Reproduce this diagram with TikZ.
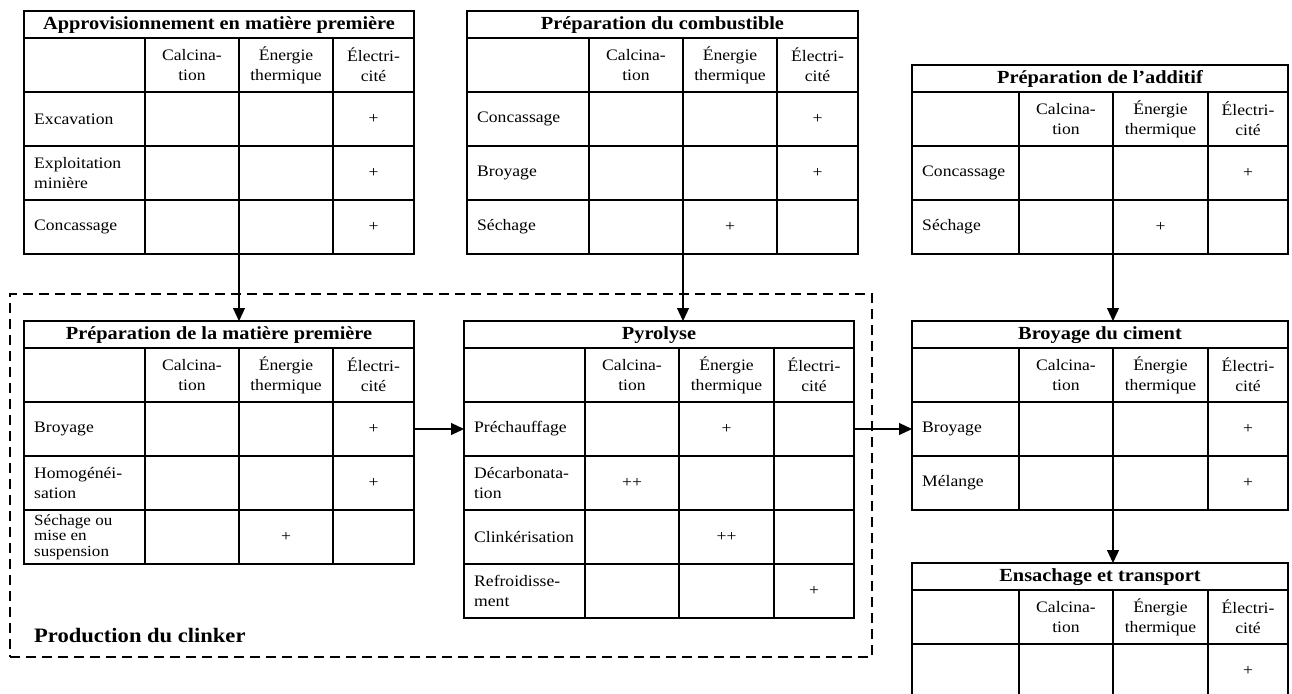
\documentclass[tikz,border=0pt]{standalone}
\usepackage{fontspec}
\setmainfont{Liberation Serif}[FakeStretch=1.1]
\usetikzlibrary{arrows.meta}
\tikzset{
 ln/.style={line width=1.2pt},
 frame/.style={draw, line width=1.2pt, inner sep=0pt, outer sep=0pt},
 ttl/.style={font=\fontsize{18.5}{20}\selectfont\bfseries, inner sep=0pt},
 hd/.style={font=\fontsize{16}{20}\selectfont, align=center, inner sep=0pt},
 lbl/.style={font=\fontsize{16}{20}\selectfont, align=left, anchor=west, inner sep=0pt},
 val/.style={font=\fontsize{16}{20}\selectfont, inner sep=0pt},
 arr/.style={line width=1.2pt, -{Triangle[length=13pt,width=12pt]}},
 dbox/.style={draw, line width=1.2pt, dash pattern=on 10pt off 6pt, inner sep=0pt, outer sep=0pt},
}
\newcommand\settab[6]{\def\Xo{#1}\def\Xa{#2}\def\Xb{#3}\def\Xc{#4}\def\Xe{#5}\def\Yt{#6}}
\newcommand\drawtab[3]{%
  \node[frame, minimum width={(\Xe-\Xo)*1pt}, minimum height={(81+54*#2)*1pt}, anchor=north west] (#1) at (\Xo,\Yt) {};
  \node[ttl] (#1-t) at ({(\Xo+\Xe)/2},\Yt+14) {#3};
  \coordinate (#1-b) at (\Xb,\Yt);
  \coordinate (#1-r1) at (\Xo,\Yt+108);
  \draw[ln] (\Xo,\Yt+27) -- (\Xe,\Yt+27);
  \pgfmathtruncatemacro\nr{#2-1}%
  \foreach \r in {0,...,\nr} \draw[ln] (\Xo,\Yt+81+54*\r) -- (\Xe,\Yt+81+54*\r);
  \foreach \c in {\Xa,\Xb,\Xc} \draw[ln] (\c,\Yt+27) -- (\c,\Yt+81+54*#2);
  \node[hd] (#1-h1) at ({(\Xa+\Xb)/2},\Yt+54) {Calcina-\\tion};
  \node[hd] (#1-h2) at ({(\Xb+\Xc)/2},\Yt+54) {Énergie\\thermique};
  \node[hd] (#1-h3) at ({(\Xc+\Xe)/2},\Yt+54) {Électri-\\cité};
}
\newcommand\rowc[6]{%
  \node[lbl] (#1-l) at (\Xo+10,\Yt+108+54*#2) {#3};
  \node[val] (#1-a) at ({(\Xa+\Xb)/2},\Yt+108+54*#2) {#4};
  \node[val] (#1-b) at ({(\Xb+\Xc)/2},\Yt+108+54*#2) {#5};
  \node[val] (#1-c) at ({(\Xc+\Xe)/2},\Yt+108+54*#2) {#6};
}
\begin{document}
\begin{tikzpicture}[x=1pt,y=-1pt]
\useasboundingbox (0,0) rectangle (1292,693);
% dashed group
\node[dbox, minimum width=862pt, minimum height=363pt, anchor=north west] (clinker) at (10,294) {};
\node[font=\fontsize{20.5}{22}\selectfont\bfseries, anchor=west, inner sep=0pt] (clinkerlbl) at (34,636) {Production du clinker};
% T1
\settab{24}{145}{239}{333}{414}{11}
\drawtab{t1}{3}{Approvisionnement en matière première}
\rowc{t1r0}{0}{Excavation}{}{}{+}
\rowc{t1r1}{1}{Exploitation\\minière}{}{}{+}
\rowc{t1r2}{2}{Concassage}{}{}{+}
% T2
\settab{467}{589}{683}{777}{858}{11}
\drawtab{t2}{3}{Préparation du combustible}
\rowc{t2r0}{0}{Concassage}{}{}{+}
\rowc{t2r1}{1}{Broyage}{}{}{+}
\rowc{t2r2}{2}{Séchage}{}{+}{}
% T3
\settab{912}{1019}{1113}{1208}{1288}{65}
\drawtab{t3}{2}{Préparation de l’additif}
\rowc{t3r0}{0}{Concassage}{}{}{+}
\rowc{t3r1}{1}{Séchage}{}{+}{}
% T4
\settab{24}{145}{239}{333}{414}{321}
\drawtab{t4}{3}{Préparation de la matière première}
\rowc{t4r0}{0}{Broyage}{}{}{+}
\rowc{t4r1}{1}{Homogénéi-\\sation}{}{}{+}
\node[lbl, font=\fontsize{15.5}{15.5}\selectfont] (t4r2-l) at (34,537) {Séchage ou\\mise en\\suspension};
\rowc{t4r2}{2}{}{}{+}{}
% T5
\settab{464}{585}{679}{774}{854}{321}
\drawtab{t5}{4}{Pyrolyse}
\rowc{t5r0}{0}{Préchauffage}{}{+}{}
\rowc{t5r1}{1}{Décarbonata-\\tion}{++}{}{}
\rowc{t5r2}{2}{Clinkérisation}{}{++}{}
\rowc{t5r3}{3}{Refroidisse-\\ment}{}{}{+}
% T6
\settab{912}{1019}{1113}{1208}{1288}{321}
\drawtab{t6}{2}{Broyage du ciment}
\rowc{t6r0}{0}{Broyage}{}{}{+}
\rowc{t6r1}{1}{Mélange}{}{}{+}
% T7
\settab{912}{1019}{1113}{1208}{1288}{563}
\drawtab{t7}{1}{Ensachage et transport}
\rowc{t7r0}{0}{}{}{}{+}
% arrows
\draw[arr] (t1.south -| t1-b) -- (t4.north -| t1-b);
\draw[arr] (t2.south -| t2-b) -- (t5.north -| t2-b);
\draw[arr] (t3.south -| t3-b) -- (t6.north -| t3-b);
\draw[arr] (t6.south -| t6-b) -- (t7.north -| t6-b);
\draw[arr] (t4.east |- t4-r1) -- (t5-r1);
\draw[arr] (t5.east |- t5-r1) -- (t6-r1);
\end{tikzpicture}
\end{document}
